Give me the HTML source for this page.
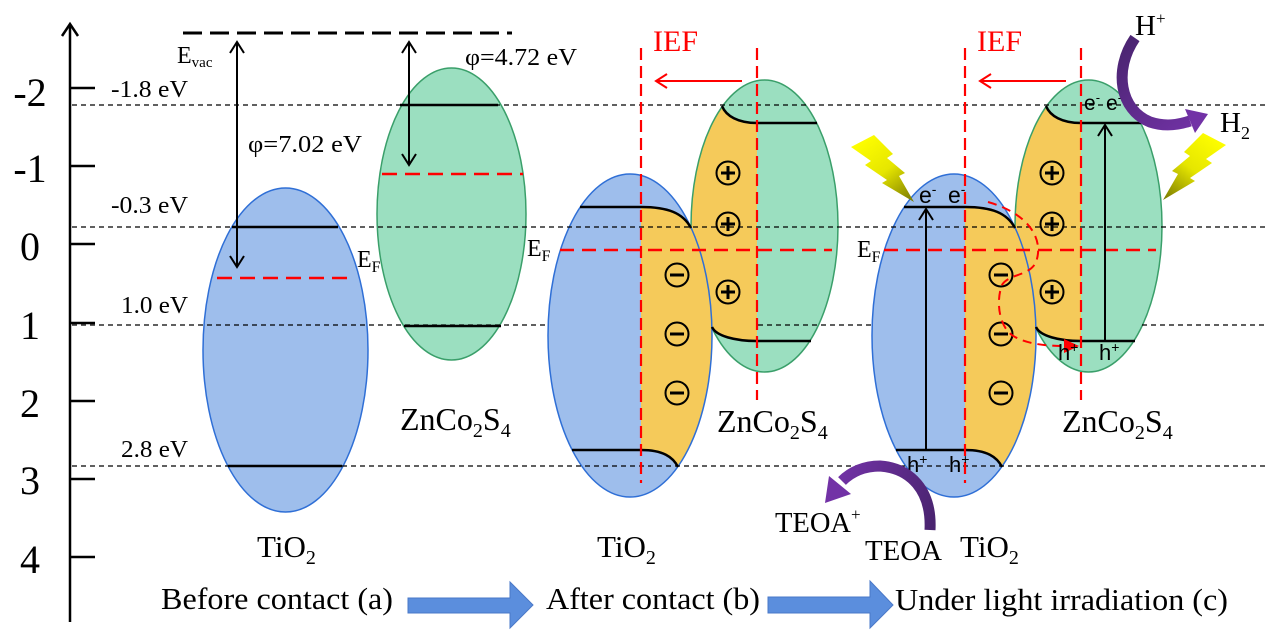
<!DOCTYPE html>
<html>
<head>
<meta charset="utf-8">
<style>
html,body{margin:0;padding:0;background:#fff;}
svg{display:block;}
</style>
</head>
<body>
<svg width="1272" height="631" viewBox="0 0 1272 631" xmlns="http://www.w3.org/2000/svg" font-family="'Liberation Serif', serif">
<defs>
  <clipPath id="cb"><ellipse cx="630" cy="335.5" rx="82" ry="161.5"/></clipPath>
  <clipPath id="cg"><ellipse cx="764.5" cy="226" rx="73.5" ry="146"/></clipPath>
  <linearGradient id="pH" gradientUnits="userSpaceOnUse" x1="1130" y1="35" x2="1205" y2="125">
    <stop offset="0" stop-color="#4A2470"/><stop offset="1" stop-color="#7232A6"/>
  </linearGradient>
  <linearGradient id="pT" gradientUnits="userSpaceOnUse" x1="930" y1="530" x2="830" y2="495">
    <stop offset="0" stop-color="#4A2470"/><stop offset="1" stop-color="#7232A6"/>
  </linearGradient>
  <linearGradient id="bR" gradientUnits="userSpaceOnUse" x1="1215" y1="135" x2="1165" y2="200">
    <stop offset="0" stop-color="#FFFF00"/><stop offset="0.5" stop-color="#E6E600"/><stop offset="1" stop-color="#7A7A00"/>
  </linearGradient>
  <linearGradient id="bL" gradientUnits="userSpaceOnUse" x1="862" y1="137" x2="912" y2="202">
    <stop offset="0" stop-color="#FFFF00"/><stop offset="0.5" stop-color="#E6E600"/><stop offset="1" stop-color="#7A7A00"/>
  </linearGradient>

  <g id="pairShapes">
    <ellipse cx="764.5" cy="226" rx="73.5" ry="146" fill="#9BDFC0"/>
    <path clip-path="url(#cg)" fill="#F5CA5A" d="M722,106 C726,116 738,123 757,123 L757,341 C736,341 718,338 712,327 L680,327 L680,106 Z"/>
    <ellipse cx="764.5" cy="226" rx="73.5" ry="146" fill="none" stroke="#3A9F6A" stroke-width="1.5"/>
    <ellipse cx="630" cy="335.5" rx="82" ry="161.5" fill="#9EBEEC"/>
    <path clip-path="url(#cb)" fill="#F5CA5A" d="M641,207 C668,207 684,213 691,228 L730,228 L730,467 L678,467 C673,457 663,450 641,450 Z"/>
    <ellipse cx="630" cy="335.5" rx="82" ry="161.5" fill="none" stroke="#2F6FD6" stroke-width="1.5"/>
  </g>

  <g id="pairLines">
    <g fill="none" stroke="#000" stroke-width="2.5">
      <path d="M580,207 L641,207 C668,207 683,213 691,228"/>
      <path d="M572,450 L641,450 C663,450 673,457 678,467"/>
      <path d="M722,106 C726,116 738,123 757,123 L817,123"/>
      <path d="M712,327 C716,336 735,341 757,341 L811,341"/>
    </g>
    <g stroke="#FF0000" stroke-width="2.2" fill="none">
      <line x1="641" y1="48" x2="641" y2="483" stroke-dasharray="12 6"/>
      <line x1="757" y1="48" x2="757" y2="400" stroke-dasharray="12 6"/>
      <line x1="560" y1="250" x2="832" y2="250" stroke-dasharray="14 8" stroke-width="2.5"/>
      <line x1="742" y1="81" x2="656" y2="81" stroke-width="2"/>
      <polyline points="667,74 656,81 667,88" stroke-width="2"/>
    </g>
    <text x="653" y="51" font-size="30" fill="#FF0000">IEF</text>
    <g fill="none" stroke="#000" stroke-width="2">
      <circle cx="728" cy="173" r="11.5"/>
      <circle cx="728" cy="224" r="11.5"/>
      <circle cx="728" cy="292" r="11.5"/>
      <circle cx="677" cy="275" r="11.5"/>
      <circle cx="677" cy="334" r="11.5"/>
      <circle cx="677" cy="393" r="11.5"/>
    </g>
    <g stroke="#000" stroke-width="3">
      <path d="M721,173H735 M728,166V180 M721,224H735 M728,217V231 M721,292H735 M728,285V299"/>
      <path d="M670,275H684 M670,334H684 M670,393H684"/>
    </g>
  </g>
</defs>

<!-- Panel (a) ellipses -->
<ellipse cx="285.5" cy="350" rx="82.5" ry="162" fill="#9EBEEC" stroke="#2F6FD6" stroke-width="1.5"/>
<ellipse cx="451.5" cy="214" rx="74.5" ry="146" fill="#9BDFC0" stroke="#3A9F6A" stroke-width="1.5"/>

<!-- Panels (b) and (c) shapes -->
<use href="#pairShapes"/>
<use href="#pairShapes" transform="translate(324,0)"/>

<!-- axis -->
<line x1="70" y1="24" x2="70" y2="622" stroke="#000" stroke-width="2.5"/>
<polyline points="62,36 70,24 78,36" fill="none" stroke="#000" stroke-width="2.5"/>
<path d="M70,88H95 M70,166H95 M70,244H95 M70,323H95 M70,401H95 M70,479H95 M70,557H95" stroke="#000" stroke-width="2.5"/>
<g font-size="40" text-anchor="middle" fill="#000">
  <text x="30" y="106">-2</text>
  <text x="30" y="182">-1</text>
  <text x="30" y="260">0</text>
  <text x="30" y="339">1</text>
  <text x="30" y="417">2</text>
  <text x="30" y="494">3</text>
  <text x="30" y="573">4</text>
</g>

<!-- reference dashed lines -->
<g stroke="#000" stroke-width="1.3" stroke-dasharray="5 4">
  <line x1="72" y1="105" x2="1268" y2="105"/>
  <line x1="72" y1="227" x2="1268" y2="227"/>
  <line x1="72" y1="325" x2="548" y2="325"/>
  <line x1="758" y1="325" x2="872" y2="325"/>
  <line x1="1142" y1="325" x2="1268" y2="325"/>
  <line x1="72" y1="466" x2="1268" y2="466"/>
</g>
<g font-size="24" fill="#000">
  <text x="111" y="97" textLength="77" lengthAdjust="spacingAndGlyphs">-1.8 eV</text>
  <text x="111" y="213" textLength="77" lengthAdjust="spacingAndGlyphs">-0.3 eV</text>
  <text x="121" y="313" textLength="67" lengthAdjust="spacingAndGlyphs">1.0 eV</text>
  <text x="121" y="457" textLength="67" lengthAdjust="spacingAndGlyphs">2.8 eV</text>
</g>

<!-- Panel (a) details -->
<line x1="183" y1="33" x2="512" y2="33" stroke="#000" stroke-width="3" stroke-dasharray="19 8"/>
<g stroke="#000" stroke-width="2.5">
  <path d="M232,227H338 M228,466H342 M400,105H498 M404,326H501"/>
</g>
<g stroke="#FF0000" stroke-width="2.5" stroke-dasharray="15 8">
  <line x1="217" y1="278" x2="355" y2="278"/>
  <line x1="382" y1="174" x2="523" y2="174"/>
</g>
<g stroke="#000" stroke-width="2" fill="none">
  <line x1="237" y1="42" x2="237" y2="267"/>
  <polyline points="230,53 237,42 244,53"/>
  <polyline points="230,256 237,267 244,256"/>
  <line x1="409" y1="42" x2="409" y2="165"/>
  <polyline points="402,53 409,42 416,53"/>
  <polyline points="402,154 409,165 416,154"/>
</g>
<text x="177" y="63" font-size="24">E<tspan dy="4" font-size="15">vac</tspan></text>
<text x="248" y="152" font-size="24" textLength="114" lengthAdjust="spacingAndGlyphs">φ=7.02 eV</text>
<text x="465" y="65" font-size="24" textLength="112" lengthAdjust="spacingAndGlyphs">φ=4.72 eV</text>
<text x="357" y="267" font-size="24">E<tspan dy="5" font-size="16">F</tspan></text>
<text x="400" y="430" font-size="32">ZnCo<tspan dy="7" font-size="20">2</tspan><tspan dy="-7" font-size="32">S</tspan><tspan dy="7" font-size="20">4</tspan></text>
<text x="257" y="557" font-size="31">TiO<tspan dy="7" font-size="20">2</tspan></text>

<!-- Panels (b) and (c) lines -->
<use href="#pairLines"/>
<use href="#pairLines" transform="translate(324,0)"/>

<!-- Panel (b) labels -->
<text x="527" y="256" font-size="24">E<tspan dy="5" font-size="16">F</tspan></text>
<text x="717" y="432" font-size="32">ZnCo<tspan dy="7" font-size="20">2</tspan><tspan dy="-7" font-size="32">S</tspan><tspan dy="7" font-size="20">4</tspan></text>
<text x="597" y="557" font-size="31">TiO<tspan dy="7" font-size="20">2</tspan></text>

<!-- Panel (c) extras -->
<g stroke="#000" stroke-width="2" fill="none">
  <line x1="926" y1="450" x2="926" y2="209"/>
  <polyline points="919,220 926,209 933,220"/>
  <line x1="1105" y1="340" x2="1105" y2="125"/>
  <polyline points="1098,136 1105,125 1112,136"/>
</g>
<path d="M988,202 C1030,214 1044,240 1036,262 C1030,276 1008,274 1002,285 C996,300 998,328 1015,337 C1030,345 1050,346 1066,346" fill="none" stroke="#FF0000" stroke-width="2" stroke-dasharray="9 6"/>
<polygon points="1079,346 1064,339 1064,353" fill="#FF0000"/>

<g font-family="'Liberation Sans', sans-serif" fill="#000">
  <text x="919" y="203" font-size="23">e<tspan dy="-9" font-size="14">-</tspan></text>
  <text x="948" y="203" font-size="23">e<tspan dy="-9" font-size="14">-</tspan></text>
  <text x="1084" y="110" font-size="21">e<tspan dy="-8" font-size="13">-</tspan></text>
  <text x="1106" y="110" font-size="21">e<tspan dy="-8" font-size="13">-</tspan></text>
  <text x="907" y="472" font-size="22">h<tspan dy="-8" font-size="14">+</tspan></text>
  <text x="949" y="472" font-size="22">h<tspan dy="-8" font-size="14">+</tspan></text>
  <text x="1058" y="360" font-size="22">h<tspan dy="-8" font-size="14">+</tspan></text>
  <text x="1099" y="360" font-size="22">h<tspan dy="-8" font-size="14">+</tspan></text>
</g>

<text x="857" y="257" font-size="24">E<tspan dy="5" font-size="16">F</tspan></text>
<text x="1062" y="432" font-size="32">ZnCo<tspan dy="7" font-size="20">2</tspan><tspan dy="-7" font-size="32">S</tspan><tspan dy="7" font-size="20">4</tspan></text>
<text x="960" y="557" font-size="31">TiO<tspan dy="7" font-size="20">2</tspan></text>

<!-- lightning bolts -->
<polygon fill="url(#bR)" points="1203,133 1226,145 1206,159 1212,163 1190,178 1195,181 1163,200 1178,174 1172,171 1190,156 1184,152"/>
<polygon fill="url(#bL)" points="874,135 851,147 871,161 865,165 887,180 882,183 914,202 899,176 905,173 887,158 893,154"/>

<!-- H+ -> H2 curved arrow -->
<path d="M1135,38 C1113,70 1120,110 1150,122 C1165,127 1178,125 1190,121" fill="none" stroke="url(#pH)" stroke-width="11"/>
<polygon points="1185,109 1208,114 1195,133" fill="#7232A6"/>
<text x="1135" y="35" font-size="29">H<tspan dy="-11" font-size="17">+</tspan></text>
<text x="1220" y="132" font-size="29">H<tspan dy="7" font-size="18">2</tspan></text>

<!-- TEOA curved arrow -->
<path d="M930,530 C932,490 910,468 880,466 C864,466 851,472 842,481" fill="none" stroke="url(#pT)" stroke-width="11"/>
<polygon points="829,476 851,494 825,503" fill="#7232A6"/>
<text x="775" y="532" font-size="29" textLength="76" lengthAdjust="spacingAndGlyphs">TEOA</text>
<text x="851" y="520" font-size="17">+</text>
<text x="865" y="560" font-size="29" textLength="77" lengthAdjust="spacingAndGlyphs">TEOA</text>

<!-- bottom labels & block arrows -->
<g font-size="31">
  <text x="161" y="609" textLength="232" lengthAdjust="spacingAndGlyphs">Before contact (a)</text>
  <text x="546" y="609" textLength="214" lengthAdjust="spacingAndGlyphs">After contact (b)</text>
  <text x="895" y="610" textLength="333" lengthAdjust="spacingAndGlyphs">Under light irradiation (c)</text>
</g>
<polygon points="408,598 510,598 510,582 533,605 510,628 510,613 408,613" fill="#5B8EDD" stroke="#4A78C8" stroke-width="1"/>
<polygon points="768,597 870,597 870,581 893,605 870,628 870,613 768,613" fill="#5B8EDD" stroke="#4A78C8" stroke-width="1"/>
</svg>
</body>
</html>
